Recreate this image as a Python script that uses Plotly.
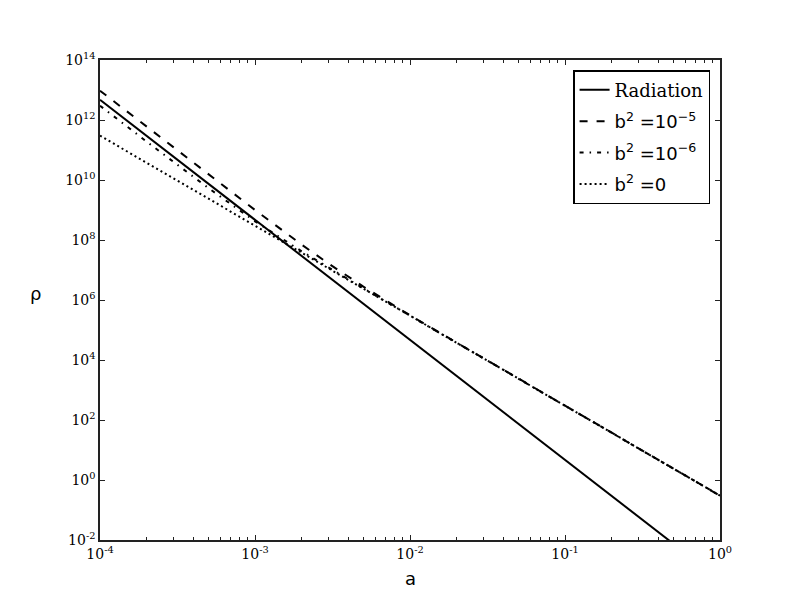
import plotly.graph_objects as go

# values (log-log axes)
a_rad = [1e-4, 1e-3, 1e-2, 1e-1, 1.0]
rho_rad = [4.7e12, 4.7e8, 4.7e4, 4.7, 4.7e-4]

a_vals = [1e-4, 2e-4, 5e-4, 1e-3, 2e-3, 3e-3, 5e-3, 1e-2, 2e-2, 5e-2, 0.1, 0.2, 0.5, 1.0]
rho_b5 = [9.5e12, 5.9e11, 1.5e10, 1.0e9, 7.0e7, 1.6e7, 2.8e6, 3.1e5, 3.8e4, 2.4e3, 300, 37.5, 2.4, 0.3]
rho_b6 = [3.0e12, 1.9e11, 5.4e9, 4.2e8, 4.2e7, 1.17e7, 2.45e6, 3.0e5, 3.75e4, 2.4e3, 300, 37.5, 2.4, 0.3]
rho_b0 = [3.0e11, 3.75e10, 2.4e9, 3.0e8, 3.75e7, 1.1e7, 2.4e6, 3.0e5, 3.75e4, 2.4e3, 300, 37.5, 2.4, 0.3]

x_tickvals = [1e-4, 1e-3, 1e-2, 1e-1, 1]
x_ticktext = ["10<sup>-4</sup>", "10<sup>-3</sup>", "10<sup>-2</sup>", "10<sup>-1</sup>", "10<sup>0</sup>"]
x_minorvals = [m * d for d in [1e-4, 1e-3, 1e-2, 1e-1] for m in range(2, 10)]
y_tickvals = [1e-2, 1e0, 1e2, 1e4, 1e6, 1e8, 1e10, 1e12, 1e14]
y_ticktext = ["10<sup>-2</sup>", "10<sup>0</sup>", "10<sup>2</sup>", "10<sup>4</sup>", "10<sup>6</sup>",
              "10<sup>8</sup>", "10<sup>10</sup>", "10<sup>12</sup>", "10<sup>14</sup>"]

serif = "DejaVu Serif"
sans = "DejaVu Sans"

fig = go.Figure()

fig.add_trace(go.Scatter(
    x=a_rad, y=rho_rad, mode="lines", name="Radiation",
    line=dict(color="black", width=2), legendgroup="r",
))
fig.add_trace(go.Scatter(
    x=a_vals, y=rho_b5, mode="lines",
    name=f"<span style='font-family:{sans}'>b<sup>2</sup> =10<sup>\u22125</sup></span>",
    line=dict(color="black", width=2, dash="8px,9px"), legendgroup="b5",
))
fig.add_trace(go.Scatter(
    x=a_vals, y=rho_b6, mode="lines",
    name=f"<span style='font-family:{sans}'>b<sup>2</sup> =10<sup>\u22126</sup></span>",
    line=dict(color="black", width=2, dash="4px,6px,1.5px,6px"), legendgroup="b6",
))
fig.add_trace(go.Scatter(
    x=a_vals, y=rho_b0, mode="lines",
    name=f"<span style='font-family:{sans}'>b<sup>2</sup> =0</span>",
    line=dict(color="black", width=2, dash="2px,3px"), legendgroup="b0",
))

axis_common = dict(
    type="log",
    showgrid=False,
    zeroline=False,
    showline=True,
    linecolor="#222",
    linewidth=1.5,
    mirror="ticks",
    ticks="inside",
    tickcolor="#222",
    tickwidth=1,
    ticklen=5,
    tickfont=dict(family=serif, size=14, color="black"),
)

fig.update_xaxes(
    **axis_common,
    range=[-4, 0],
    tickmode="array", tickvals=x_tickvals, ticktext=x_ticktext,
    minor=dict(ticks="inside", ticklen=3, tickcolor="#222", tickwidth=1,
               showgrid=False, tickmode="array", tickvals=x_minorvals),
)
fig.update_yaxes(
    **axis_common,
    range=[-2, 14],
    tickmode="array", tickvals=y_tickvals, ticktext=y_ticktext,
)

# the page body adds an 8px offset, so the figure is 8px smaller on each side
fig.update_layout(
    width=792, height=592,
    margin=dict(l=92, r=80, t=52, b=60),
    plot_bgcolor="white",
    paper_bgcolor="white",
    showlegend=True,
    legend=dict(
        x=0.984, y=0.979, xanchor="right", yanchor="top",
        bordercolor="black", borderwidth=1.5, bgcolor="white",
        font=dict(family=serif, size=18, color="black"),
        tracegroupgap=5,
        entrywidth=108, entrywidthmode="pixels",
    ),
    annotations=[
        dict(text="a", x=0.5, y=-0.08, xref="paper", yref="paper",
             xanchor="center", yanchor="middle", showarrow=False,
             font=dict(family=sans, size=18, color="black")),
        dict(text="\u03c1", x=(35 - 100) / 620, y=(540 - 293) / 480,
             xref="paper", yref="paper", xanchor="center", yanchor="middle",
             showarrow=False, font=dict(family=sans, size=18, color="black")),
    ],
)

fig.write_html("out.html")
